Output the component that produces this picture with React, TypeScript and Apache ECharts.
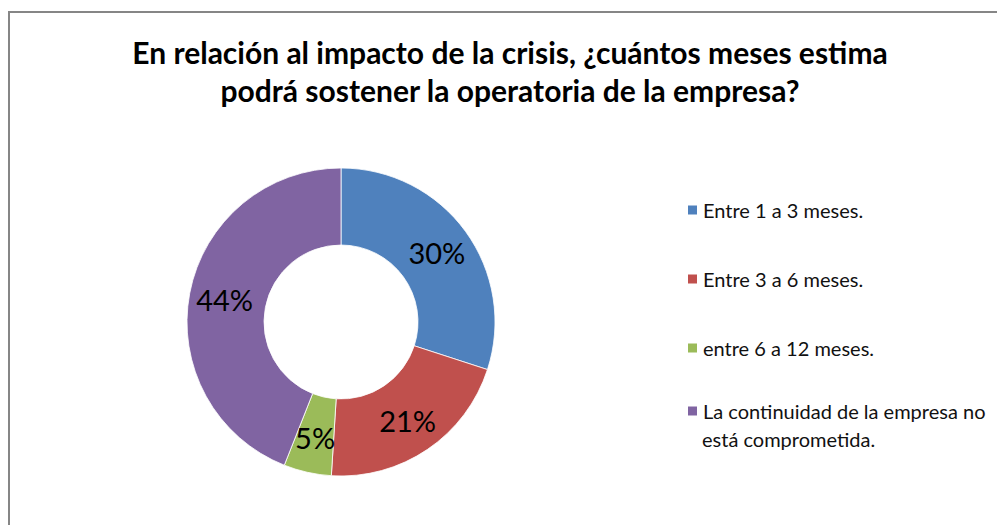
import React, { useEffect, useRef } from "react";
import * as echarts from "echarts";

const titleLines = [
  "En relación al impacto de la crisis, ¿cuántos meses estima",
  "podrá sostener la operatoria de la empresa?",
];
const categories = [
  "Entre 1 a 3 meses.",
  "Entre 3 a 6 meses.",
  "entre 6 a 12 meses.",
  "La continuidad de la empresa no está comprometida.",
];
const legendLine1Last = "La continuidad de la empresa no";
const legendLine2Last = "está comprometida.";
const values = [30, 21, 5, 44];
const colors = ["#4F81BD", "#C0504D", "#9BBB59", "#8064A2"];

const FONT = "Lato, 'Open Sans', sans-serif";

export default function App() {
  const ref = useRef<HTMLDivElement>(null);
  useEffect(() => {
    if (!ref.current) return;
    const chart = echarts.init(ref.current, null, { renderer: "svg" });
    chart.setOption({
      animation: false,
      backgroundColor: "#ffffff",
      color: colors,
      title: {
        text: titleLines.join("\n"),
        left: 510,
        textAlign: "center",
        top: 33,
        padding: 0,
        textStyle: {
          fontFamily: FONT,
          fontWeight: "bold",
          fontSize: 30,
          lineHeight: 38,
          color: "#000",
        },
      },
      legend: [
        {
          orient: "vertical",
          left: 686,
          top: 200,
          padding: 0,
          itemWidth: 11,
          itemHeight: 11,
          itemGap: 49,
          icon: "rect",
          data: categories.slice(0, 3),
          textStyle: { fontFamily: FONT, fontSize: 20, lineHeight: 20, color: "#111" },
        },
        {
          orient: "vertical",
          left: 686,
          top: 401,
          padding: 0,
          itemWidth: 11,
          itemHeight: 11,
          icon: "rect",
          data: [categories[3]],
          formatter: () => legendLine1Last,
          textStyle: { fontFamily: FONT, fontSize: 20, lineHeight: 20, color: "#111" },
        },
      ],
      graphic: [
        {
          type: "rect",
          shape: { x: 9, y: 12, width: 1200, height: 800 },
          style: { fill: "none", stroke: "#868686", lineWidth: 2 },
          silent: true,
        },
        {
          type: "text",
          x: 702,
          y: 439,
          style: {
            text: legendLine2Last,
            fontFamily: FONT,
            fontSize: 20,
            fill: "#111",
            verticalAlign: "middle",
          },
        },
      ],
      series: [
        {
          type: "pie",
          center: [341, 322],
          radius: [77, 154],
          startAngle: 90,
          clockwise: true,
          avoidLabelOverlap: false,
          itemStyle: { borderColor: "#ffffff", borderWidth: 0.8 },
          label: {
            show: true,
            position: "inside",
            formatter: "{c}%",
            fontFamily: FONT,
            fontSize: 29,
            color: "#000",
          },
          labelLine: { show: false },
          emphasis: { disabled: true },
          data: categories.map((name, i) => ({ name, value: values[i] })),
        },
      ],
    });
    return () => chart.dispose();
  }, []);
  return (
    <div
      ref={ref}
      style={{ position: "fixed", left: 0, top: 0, width: 997, height: 525 }}
    />
  );
}
